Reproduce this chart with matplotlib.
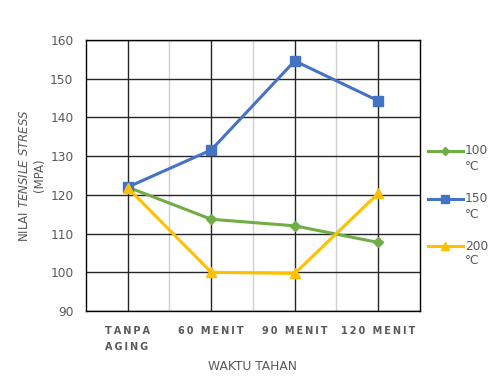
import numpy as np
import matplotlib
matplotlib.use("Agg")
import matplotlib.pyplot as plt
from matplotlib.lines import Line2D

plt.rcParams["font.family"] = ["DejaVu Sans"]
plt.rcParams["mathtext.fontset"] = "custom"
plt.rcParams["mathtext.it"] = "DejaVu Sans:italic"
plt.rcParams["mathtext.rm"] = "DejaVu Sans"

categories = ["TANPA\nAGING", "60 MENIT", "90 MENIT", "120 MENIT"]
series_names = ["100", "150", "200"]
unit = "°C"
stress_100 = [122.0, 113.7, 112.0, 107.7]
stress_150 = [122.0, 131.6, 154.6, 144.3]
stress_200 = [121.8, 100.0, 99.7, 120.4]

colors = ["#70AD47", "#4472C4", "#FFC000"]
markers = ["D", "s", "^"]
msizes = [5, 7.5, 7]
text_grey = "#595959"


def spaced(label):
    # widen letter spacing with thin spaces
    return "\n".join("\u2009".join(line) for line in label.split("\n"))


fig = plt.figure(figsize=(4.89, 3.77), dpi=100)
ax = fig.add_axes([86 / 489, 1 - 311 / 377, 334 / 489, 271 / 377])

x = np.arange(len(categories)) + 0.5
for vals, c, m, ms in zip([stress_100, stress_150, stress_200],
                          colors, markers, msizes):
    ax.plot(x, vals, color=c, marker=m, markersize=ms, linewidth=2.2, zorder=3)

ax.set_xlim(0, len(categories))
ax.set_ylim(90, 160)
ax.set_yticks(np.arange(90, 161, 10))
ax.set_xticks(x)
ax.set_xticks(np.arange(1, len(categories)), minor=True)
ax.set_xticklabels([spaced(c) for c in categories], fontsize=7,
                   fontweight="bold", color=text_grey, ha="center",
                   multialignment="left", linespacing=1.7)
ax.tick_params(axis="both", which="both", length=0)
ax.tick_params(axis="y", labelsize=8.8, labelcolor=text_grey, pad=9)
ax.tick_params(axis="x", pad=11)

ax.grid(True, which="major", color="#262626", linewidth=1)
ax.grid(True, which="minor", axis="x", color="#d0d0d0", linewidth=1)
ax.set_axisbelow(True)
for s in ax.spines.values():
    s.set_color("#000000")
    s.set_linewidth(1)

ax.set_xlabel("WAKTU TAHAN", fontsize=8.8, color=text_grey, labelpad=6)
ax.set_ylabel("NILAI $\\mathit{TENSILE\\ STRESS}$\n(MPA)", fontsize=8.5,
              color=text_grey, labelpad=3)

# legend drawn by hand so the unit sits under the number
legend_y = [151, 199, 246]
for name, c, m, ms, yp in zip(series_names, colors, markers, msizes, legend_y):
    yf = 1 - yp / 377
    fig.add_artist(Line2D([428 / 489, 463 / 489], [yf, yf], color=c,
                          linewidth=2.2, transform=fig.transFigure))
    fig.add_artist(Line2D([445.5 / 489], [yf], color=c, marker=m,
                          markersize=ms * 0.8, transform=fig.transFigure))
    fig.text(465 / 489, yf, name, fontsize=8.8, color=text_grey,
             va="center", ha="left")
    fig.text(465 / 489, yf - 15 / 377, unit, fontsize=8.8, color=text_grey,
             va="center", ha="left")

fig.savefig("out.png", dpi=100)
